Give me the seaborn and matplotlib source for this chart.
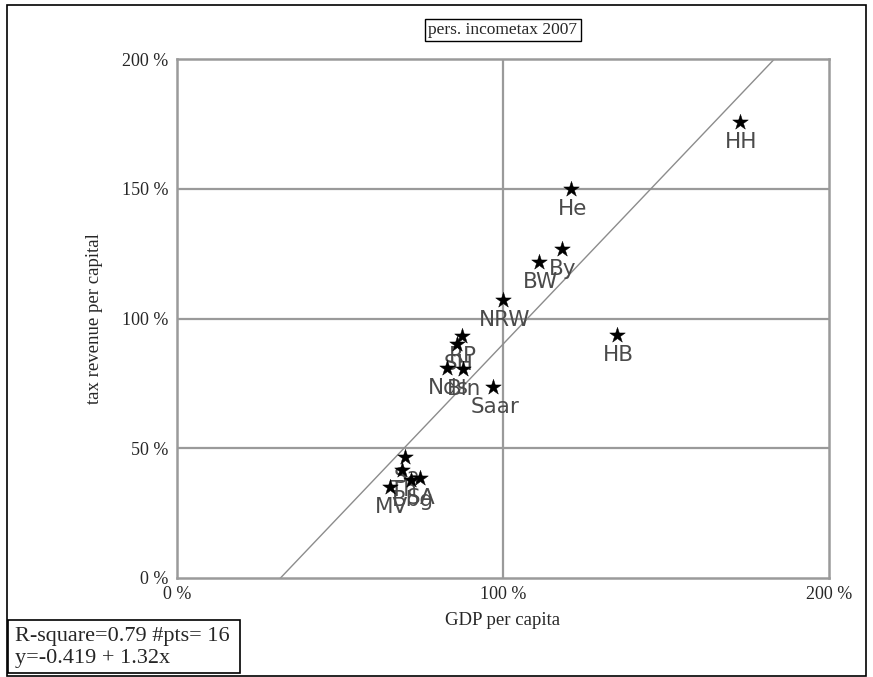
import numpy as np
import pandas as pd
import matplotlib
matplotlib.use("Agg")
import matplotlib.pyplot as plt
from matplotlib.ticker import MultipleLocator, FixedLocator
from matplotlib.patches import Rectangle
import seaborn as sns

# Daten: Laender, BIP pro Kopf (%), Steueraufkommen pro Kopf (%)
laender = ["HH", "He", "By", "BW", "NRW", "HB", "Saar", "RP", "SH", "Nds", "Bln",
           "Sa", "Th", "SA", "Bbg", "MV"]
gdp = [172.7, 121.0, 118.0, 111.0, 100.0, 135.0, 97.0, 87.4, 85.9, 82.8, 87.7,
       70.0, 69.0, 74.5, 71.8, 65.3]
steuer = [175.7, 150.0, 126.8, 121.8, 107.0, 93.6, 73.6, 93.3, 90.2, 80.9, 80.5,
          46.6, 41.6, 38.5, 37.8, 35.1]

# Regression (aus dem Bild): y = -0.419 + 1.32x
a, b = -0.419, 1.32
r2, npts = 0.79, 16

df = pd.DataFrame({"land": laender, "gdp": gdp, "steuer": steuer})

sns.set_style("white")
plt.rcParams["font.family"] = ["Liberation Serif", "DejaVu Serif"]

fig = plt.figure(figsize=(8.73, 6.77), dpi=100)
ax = fig.add_axes([177/873, 1 - 578/677, (829 - 177)/873, (578 - 59)/677])

# Gitter
ax.axvline(100, color="#9a9a9a", lw=1.6, zorder=1)
for gy in [50, 100, 150]:
    ax.axhline(gy, color="#9a9a9a", lw=1.6, zorder=1)

# Regressionsgerade
xl = np.linspace(0, 200, 200)
yl = (a + b * xl / 100) * 100
ax.plot(xl, yl, color="#8c8c8c", lw=1.0, zorder=2)

sns.scatterplot(data=df, x="gdp", y="steuer", marker="*", s=140, color="black",
                edgecolor="black", linewidth=0.3, ax=ax, zorder=4, legend=False)

for _, r in df.iterrows():
    ax.annotate(r["land"], (r["gdp"], r["steuer"]), xytext=(1, -14.5),
                textcoords="offset points", ha="center", va="center",
                fontsize=15.5, color="#4a4a4a", family=["DejaVu Sans"],
                zorder=3)

ax.set_xlim(0, 200)
ax.set_ylim(0, 200)
ax.xaxis.set_major_locator(FixedLocator([0, 100, 200]))
ax.yaxis.set_major_locator(FixedLocator([0, 50, 100, 150, 200]))
ax.set_xticklabels(["0 %", "100 %", "200 %"])
ax.set_yticklabels(["0 %", "50 %", "100 %", "150 %", "200 %"])
ax.xaxis.set_minor_locator(MultipleLocator(100 / 18))
ax.tick_params(axis="both", which="major", length=0, labelsize=13, pad=6)
ax.tick_params(axis="x", which="minor", direction="in", length=6, color="#9a9a9a",
               width=1.2)
for s in ax.spines.values():
    s.set_color("#9a9a9a")
    s.set_linewidth(1.8)

ax.set_xlabel("GDP per capita", fontsize=13.5, labelpad=6)
ax.set_ylabel("tax revenue per capital", fontsize=13.5, labelpad=14)

fig.text(503/873, 1 - 30/677, "pers. incometax 2007", ha="center", va="center",
         fontsize=12.5,
         bbox=dict(boxstyle="square,pad=0.2", fc="white", ec="black", lw=1))

# Kasten mit Regressionsangaben
fig.patches.append(Rectangle((8/873, 1 - 673/677), 232/873, 53/677,
                             transform=fig.transFigure, fill=False, ec="black",
                             lw=1.2))
fig.text(15/873, 1 - 636/677, "R-square=%.2f #pts= %d" % (r2, npts),
         ha="left", va="center", fontsize=16)
fig.text(15/873, 1 - 659/677, "y=%.3f + %.2fx" % (a, b),
         ha="left", va="center", fontsize=16)

# Rahmen
fig.patches.append(Rectangle((7/873, 0.002), (866 - 7)/873, 1 - 5/677 - 0.002,
                             transform=fig.transFigure, fill=False, ec="black",
                             lw=1.2))

fig.savefig("out.png", dpi=100)
